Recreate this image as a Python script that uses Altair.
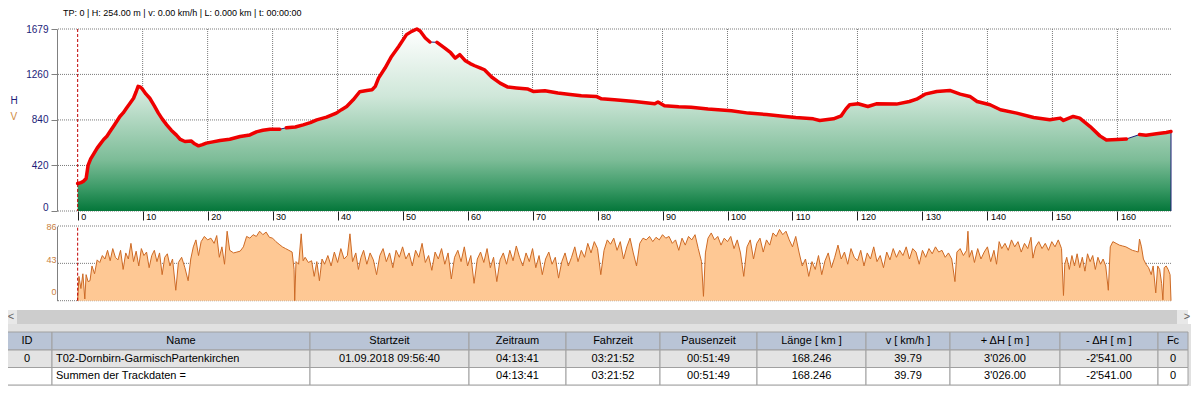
import altair as alt
import pandas as pd

# ---------------- data ----------------
status_text = "TP: 0 | H: 254.00 m | v: 0.00 km/h | L: 0.000 km | t: 00:00:00"

elevation_profile = [
    (0.0, 254), (0.5, 262), (0.9, 275), (1.3, 300), (1.6, 420), (2.0, 480), (2.4, 520),
    (3.0, 580), (3.4, 612), (4.0, 660), (4.5, 690), (5.0, 735), (5.5, 780), (6.0, 825),
    (6.5, 872), (7.0, 905), (7.5, 948), (8.0, 990), (8.6, 1040), (9.0, 1100), (9.3, 1150),
    (9.6, 1145), (9.9, 1130), (10.5, 1080), (11.1, 1040), (11.8, 970), (12.4, 905),
    (13.0, 850), (13.7, 795), (14.4, 745), (15.2, 700), (15.8, 660), (16.5, 641),
    (17.5, 645), (18.0, 620), (18.6, 601), (19.2, 612), (19.8, 626), (20.8, 638),
    (21.9, 650), (23.4, 662), (25.0, 687), (26.5, 702), (27.5, 730), (28.5, 745),
    (29.6, 755), (31.1, 755), (32.1, 767), (33.5, 775), (34.7, 795), (35.8, 815),
    (36.8, 841), (38.3, 866), (39.8, 903), (40.6, 935), (41.4, 964), (42.4, 1026),
    (43.4, 1100), (44.5, 1112), (45.3, 1118), (45.8, 1150), (46.3, 1226), (47.3, 1319),
    (48.3, 1426), (49.4, 1518), (50.6, 1627), (51.4, 1657), (52.2, 1679), (52.7, 1660),
    (53.5, 1596), (54.2, 1559), (55.3, 1556), (56.5, 1503), (57.4, 1460), (58.1, 1411),
    (58.8, 1442), (59.6, 1389), (60.4, 1360), (61.1, 1340), (62.0, 1318), (62.6, 1303),
    (63.7, 1236), (65.0, 1180), (66.2, 1143), (67.5, 1135), (69.3, 1125), (70.1, 1103),
    (71.9, 1110), (73.9, 1088), (75.8, 1075), (77.5, 1063), (79.8, 1057), (80.6, 1035),
    (82.6, 1026), (85.7, 1010), (88.8, 989), (89.3, 1006), (90.3, 970), (92.5, 962),
    (94.4, 958), (97.0, 940), (100.6, 924), (103.2, 903), (106.0, 890), (108.5, 875),
    (110.5, 862), (113.2, 850), (114.2, 835), (116.3, 850), (117.5, 878), (118.2, 940),
    (118.8, 980), (120.1, 989), (121.6, 964), (122.9, 989), (126.0, 986), (128.0, 1010),
    (129.1, 1032), (130.4, 1078), (132.2, 1103), (134.2, 1112), (135.8, 1078),
    (137.3, 1057), (138.4, 1010), (140.4, 980), (142.0, 934), (144.5, 903), (147.1, 863),
    (149.6, 841), (151.2, 857), (151.7, 835), (153.2, 872), (154.2, 857), (155.8, 779),
    (157.3, 693), (158.3, 656), (160.0, 660), (161.4, 665), (163.4, 705), (164.4, 699),
    (166.0, 712), (167.5, 725), (168.246, 733),
]

# stretches where the red highlight of the profile is interrupted (km from .. to)
red_gaps = [(31.1, 32.1), (54.2, 55.3), (161.4, 163.4)]

speed_profile = [
    (0.0, 0), (0.2, 28), (0.5, 14), (0.8, 31), (1.1, 2), (1.3, 30), (1.6, 22), (1.9, 23),
    (2.2, 40), (2.6, 31), (3.0, 47), (3.4, 44), (3.8, 52), (4.2, 48), (4.6, 58), (5.0, 46),
    (5.4, 60), (5.8, 50), (6.2, 47), (6.6, 58), (7.0, 36), (7.4, 55), (7.8, 48), (8.2, 66),
    (8.6, 45), (9.0, 57), (9.4, 40), (9.8, 60), (10.2, 52), (10.6, 56), (11.0, 38),
    (11.4, 52), (11.8, 58), (12.2, 45), (12.6, 55), (13.0, 30), (13.4, 50), (13.8, 54),
    (14.2, 40), (14.6, 48), (15.1, 12), (15.5, 44), (16.0, 50), (16.5, 38), (17.0, 23),
    (17.4, 48), (17.8, 62), (18.2, 70), (18.6, 52), (19.0, 68), (19.5, 74), (20.0, 70),
    (20.5, 72), (21.0, 66), (21.4, 75), (21.8, 50), (22.2, 62), (22.6, 42), (23.0, 80),
    (23.4, 58), (24.0, 55), (24.5, 56), (25.0, 57), (25.5, 62), (26.0, 74), (26.5, 72),
    (27.0, 76), (27.5, 74), (28.0, 80), (28.5, 76), (29.0, 79), (29.5, 73), (30.0, 72),
    (30.5, 68), (31.0, 65), (31.5, 62), (32.0, 60), (32.5, 58), (33.0, 56), (33.3, 36),
    (33.4, 0), (33.6, 45), (34.0, 42), (34.4, 77), (34.7, 46), (35.0, 50), (35.5, 44),
    (36.0, 46), (36.4, 28), (36.8, 45), (37.2, 23), (37.6, 48), (38.0, 42), (38.5, 52),
    (39.0, 40), (39.5, 56), (40.0, 44), (40.5, 60), (41.0, 48), (41.5, 52), (41.9, 77),
    (42.3, 45), (42.8, 55), (43.2, 36), (43.6, 50), (44.0, 58), (44.5, 42), (45.0, 55),
    (45.5, 47), (46.0, 30), (46.5, 52), (47.0, 60), (47.5, 45), (48.0, 55), (48.5, 38),
    (49.0, 58), (49.5, 50), (50.0, 62), (50.5, 48), (51.0, 55), (51.5, 40), (52.0, 58),
    (52.5, 50), (53.0, 66), (53.5, 44), (54.0, 52), (54.5, 35), (55.0, 56), (55.5, 48),
    (56.0, 60), (56.5, 42), (57.0, 55), (57.5, 25), (58.0, 50), (58.5, 58), (59.0, 45),
    (59.5, 62), (60.0, 40), (60.5, 52), (61.0, 20), (61.5, 48), (62.0, 56), (62.5, 44),
    (63.0, 60), (63.5, 38), (64.0, 50), (64.5, 22), (65.0, 47), (65.5, 55), (66.0, 42),
    (66.5, 58), (67.0, 46), (67.5, 63), (68.0, 50), (68.5, 40), (69.0, 55), (69.5, 45),
    (70.0, 60), (70.5, 38), (71.0, 52), (71.5, 30), (72.0, 48), (72.5, 56), (73.0, 42),
    (73.5, 50), (74.0, 26), (74.5, 45), (75.0, 55), (75.5, 40), (76.0, 50), (76.5, 62),
    (77.0, 45), (77.5, 58), (78.0, 50), (78.5, 66), (79.0, 55), (79.5, 68), (80.0, 60),
    (80.5, 30), (81.0, 58), (81.5, 70), (82.0, 65), (82.5, 72), (83.0, 58), (83.5, 68),
    (84.0, 48), (84.5, 62), (85.0, 72), (85.5, 55), (86.0, 40), (86.5, 66), (87.0, 72),
    (87.5, 70), (88.0, 74), (88.5, 68), (89.0, 73), (89.5, 70), (90.0, 76), (90.5, 72),
    (91.0, 74), (91.5, 66), (92.0, 70), (92.5, 58), (93.0, 72), (93.5, 64), (94.0, 74),
    (94.5, 70), (95.0, 76), (95.5, 60), (96.0, 45), (96.3, 5), (96.6, 55), (97.0, 72),
    (97.5, 78), (98.0, 70), (98.5, 74), (99.0, 64), (99.5, 72), (100.0, 68), (100.5, 74),
    (101.0, 60), (101.5, 70), (102.0, 55), (102.5, 28), (103.0, 62), (103.5, 70),
    (104.0, 48), (104.5, 66), (105.0, 72), (105.5, 56), (106.0, 70), (106.5, 64),
    (107.0, 78), (107.5, 74), (108.0, 82), (108.5, 76), (109.0, 80), (109.5, 70),
    (110.0, 62), (110.5, 74), (111.0, 56), (111.5, 40), (112.0, 48), (112.5, 28),
    (113.0, 45), (113.5, 36), (114.0, 52), (114.5, 30), (115.0, 46), (115.5, 55),
    (116.0, 38), (116.5, 50), (117.0, 64), (117.5, 48), (118.0, 56), (118.5, 42),
    (119.0, 60), (119.5, 50), (120.0, 46), (120.5, 58), (121.0, 40), (121.5, 55),
    (122.0, 48), (122.5, 62), (123.0, 45), (123.5, 52), (124.0, 38), (124.5, 56),
    (125.0, 47), (125.5, 60), (126.0, 50), (126.5, 58), (127.0, 52), (127.5, 62),
    (128.0, 48), (128.5, 60), (129.0, 56), (129.5, 42), (130.0, 58), (130.5, 50),
    (131.0, 60), (131.5, 54), (132.0, 62), (132.5, 56), (133.0, 58), (133.5, 50),
    (134.0, 55), (134.5, 48), (135.0, 22), (135.3, 56), (135.8, 60), (136.3, 52),
    (136.8, 58), (137.0, 80), (137.2, 50), (137.6, 58), (138.0, 44), (138.5, 60),
    (139.0, 48), (139.5, 56), (140.0, 62), (140.5, 45), (141.0, 58), (141.4, 42),
    (141.8, 68), (142.2, 60), (142.7, 66), (143.2, 58), (143.7, 70), (144.2, 62),
    (144.7, 68), (145.2, 56), (145.7, 66), (146.2, 60), (146.7, 73), (147.0, 49),
    (147.4, 62), (147.9, 68), (148.4, 60), (148.9, 66), (149.4, 58), (149.9, 68),
    (150.4, 62), (150.9, 70), (151.4, 60), (151.7, 6), (151.9, 42), (152.2, 50),
    (152.6, 36), (153.0, 52), (153.4, 40), (153.8, 54), (154.2, 38), (154.6, 50),
    (155.0, 34), (155.4, 54), (155.8, 45), (156.2, 52), (156.6, 36), (157.0, 50),
    (157.4, 42), (157.8, 48), (158.2, 40), (158.6, 12), (158.9, 62), (159.3, 68),
    (159.8, 66), (160.3, 64), (160.8, 63), (161.3, 62), (161.8, 60), (162.3, 58),
    (162.8, 57), (163.2, 56), (163.4, 71), (163.7, 62), (164.0, 48), (164.4, 42),
    (164.8, 38), (165.2, 30), (165.5, 40), (165.9, 9), (166.2, 40), (166.5, 36),
    (166.8, 20), (167.0, 1), (167.2, 38), (167.5, 40), (167.8, 36), (168.1, 30),
    (168.246, 0),
]

elev_ticks = [0, 420, 840, 1260, 1679]
speed_ticks = [0, 43, 86]
km_ticks = [0, 10, 20, 30, 40, 50, 60, 70, 80, 90, 100, 110, 120, 130, 140, 150, 160]
cursor_km = [0.0]
track_start_km = -3.18
track_end_km = 168.246

table_header = ["ID", "Name", "Startzeit", "Zeitraum", "Fahrzeit", "Pausenzeit",
                "Länge [ km ]", "v [ km/h ]", "+ ΔH [ m ]", "- ΔH [ m ]", "Fc"]
table_track = ["0", "T02-Dornbirn-GarmischPartenkirchen", "01.09.2018 09:56:40", "04:13:41",
               "03:21:52", "00:51:49", "168.246", "39.79", "3'026.00", "-2'541.00", "0"]
table_sum = ["", "Summen der Trackdaten =", "", "04:13:41", "03:21:52", "00:51:49",
             "168.246", "39.79", "3'026.00", "-2'541.00", "0"]

# ---------------- layout / style ----------------
FONT = "Liberation Sans, Arial, Helvetica, sans-serif"
GRID = "#7a7a7a"
NAVY = "#1c1c78"
COL_WIDTHS = [50, 258, 159, 97, 94, 97, 109, 84, 110, 98, 30]
ROW_EDGES = [22, 40, 57.5, 75]          # header, track row, sum row (table units)
SCROLL_EDGES = [0, 14]
THUMB = [15, 1175]
SPEED_RANGE = [271.7, 197]
TABLE_X_RANGE = [-55, 1131]
TABLE_Y_RANGE = [281, 356]

edges = [0]
for w in COL_WIDTHS:
    edges.append(edges[-1] + w)
table_w = edges[-1]

x_km = alt.Scale(domain=[track_start_km, track_end_km], nice=False, zero=False)
y_elev = alt.Scale(domain=[elev_ticks[0], elev_ticks[-1]], nice=False, zero=False)
y_speed = alt.Scale(domain=[speed_ticks[0], speed_ticks[-1]], range=SPEED_RANGE, nice=False, zero=False)
tx = alt.Scale(domain=[0, table_w], range=TABLE_X_RANGE, nice=False, zero=False)
ty = alt.Scale(domain=[0, ROW_EDGES[-1]], range=TABLE_Y_RANGE, nice=False, zero=False)

elev_df = pd.DataFrame(elevation_profile, columns=["km", "m"])
speed_df = pd.DataFrame(speed_profile, columns=["km", "v"])

# red highlight: split into segments at the gaps
inside_gap = elev_df["km"].apply(lambda k: any(a < k < b for a, b in red_gaps))
red_df = elev_df[~inside_gap].copy()
red_df["seg"] = red_df["km"].apply(lambda k: sum(1 for a, b in red_gaps if k >= b))
end_df = elev_df.tail(1).assign(base=elev_ticks[0])

# ---------------- plot layers ----------------
hgrid = alt.Chart(pd.DataFrame({"v": elev_ticks})).mark_rule(
    color=GRID, strokeDash=[1, 1], strokeWidth=1
).encode(y=alt.Y("v:Q", scale=y_elev, axis=None))

vgrid = alt.Chart(pd.DataFrame({"k": km_ticks[1:]})).mark_rule(
    color=GRID, strokeDash=[1, 1], strokeWidth=1
).encode(x=alt.X("k:Q", scale=x_km, axis=None))

sgrid = alt.Chart(pd.DataFrame({"v": speed_ticks})).mark_rule(
    color=GRID, strokeDash=[1, 1], strokeWidth=1
).encode(y=alt.Y("v:Q", scale=y_speed, axis=None))

gradient = alt.Gradient(
    gradient="linear",
    stops=[
        alt.GradientStop(color="#ffffff", offset=0),
        alt.GradientStop(color="#cfe7d9", offset=0.37),
        alt.GradientStop(color="#7cbc97", offset=0.72),
        alt.GradientStop(color="#3d9b68", offset=0.87),
        alt.GradientStop(color="#04773a", offset=1),
    ],
    x1=1, x2=1, y1=0, y2=1,
)

x_axis = alt.Axis(
    orient="bottom", values=km_ticks, format="d", grid=False, domain=False,
    tickColor="#202020", tickSize=9, tickWidth=1,
    labelAlign="left", labelBaseline="middle", labelPadding=-4, labelOffset=3,
    labelFlush=False, labelFontSize=9, labelFont=FONT, labelColor="#000000", title=None,
)
elev_axis = alt.Axis(
    orient="left", values=elev_ticks, format="d", grid=False,
    domainColor="#808080", tickColor="#808080", tickSize=6, labelPadding=3,
    labelColor=NAVY, labelFontSize=10, labelFont=FONT,
    labelOffset={"expr": "datum.value == 0 ? -4 : 0"},
    title="H", titleAngle=0, titleX=-47, titleY=71, titleColor=NAVY,
    titleFontSize=10, titleFontWeight="normal", titleFont=FONT,
    titleAlign="left", titleBaseline="middle",
)
speed_axis = alt.Axis(
    orient="left", values=speed_ticks, format="d", grid=False, ticks=False,
    domainColor="#808080", labelPadding=1,
    labelColor="#c8803e", labelFontSize=9, labelFont=FONT,
    labelOffset={"expr": "datum.value == 0 ? -9 : (datum.value == 43 ? -4 : 0)"},
    title="V", titleAngle=0, titleX=-47, titleY=87, titleColor="#d08a40",
    titleFontSize=10, titleFontWeight="normal", titleFont=FONT,
    titleAlign="left", titleBaseline="middle",
)

elev_area = alt.Chart(elev_df).mark_area(color=gradient).encode(
    x=alt.X("km:Q", scale=x_km, axis=x_axis),
    y=alt.Y("m:Q", scale=y_elev, axis=elev_axis),
)
elev_outline = alt.Chart(elev_df).mark_line(color=NAVY, strokeWidth=1).encode(
    x=alt.X("km:Q", scale=x_km, axis=None),
    y=alt.Y("m:Q", scale=y_elev, axis=None),
)
elev_end = alt.Chart(end_df).mark_rule(color=NAVY, strokeWidth=1).encode(
    x=alt.X("km:Q", scale=x_km, axis=None),
    y=alt.Y("m:Q", scale=y_elev, axis=None),
    y2="base:Q",
)
elev_line = alt.Chart(red_df).mark_line(
    color="#ee0000", strokeWidth=3.5, strokeJoin="round", strokeCap="round"
).encode(
    x=alt.X("km:Q", scale=x_km, axis=None),
    y=alt.Y("m:Q", scale=y_elev, axis=None),
    detail="seg:N",
)

speed_area = alt.Chart(speed_df).mark_area(color="#fec894").encode(
    x=alt.X("km:Q", scale=x_km, axis=None),
    y=alt.Y("v:Q", scale=y_speed, axis=speed_axis),
)
speed_line = alt.Chart(speed_df).mark_line(color="#cd6a25", strokeWidth=1).encode(
    x=alt.X("km:Q", scale=x_km, axis=None),
    y=alt.Y("v:Q", scale=y_speed, axis=None),
)

cursor_e = alt.Chart(pd.DataFrame({"k": cursor_km})).mark_rule(
    color="#c00000", strokeDash=[3, 2], strokeWidth=1
).encode(x=alt.X("k:Q", scale=x_km, axis=None))
cursor_s = alt.Chart(pd.DataFrame({"k": cursor_km, "lo": [speed_ticks[0]], "hi": [speed_ticks[-1]]})).mark_rule(
    color="#c00000", strokeDash=[3, 2], strokeWidth=1
).encode(
    x=alt.X("k:Q", scale=x_km, axis=None),
    y=alt.Y("lo:Q", scale=y_speed, axis=None),
    y2="hi:Q",
)

# ---------------- table / scrollbar ----------------
bg_df = pd.DataFrame({"x0": [0], "x1": [table_w + 10], "y0": [SCROLL_EDGES[1]], "y1": [ROW_EDGES[-1] + 2]})
table_bg = alt.Chart(bg_df).mark_rect(color="#e1e1e1").encode(
    x=alt.X("x0:Q", scale=tx, axis=None), x2="x1:Q",
    y=alt.Y("y0:Q", scale=ty, axis=None), y2="y1:Q",
)

scroll_df = pd.DataFrame({
    "part": ["track", "thumb"],
    "x0": [0, THUMB[0]], "x1": [table_w, THUMB[1]],
    "y0": [SCROLL_EDGES[0]] * 2, "y1": [SCROLL_EDGES[1]] * 2,
})
scroll = alt.Chart(scroll_df).mark_rect().encode(
    x=alt.X("x0:Q", scale=tx, axis=None), x2="x1:Q",
    y=alt.Y("y0:Q", scale=ty, axis=None), y2="y1:Q",
    color=alt.Color("part:N", scale=alt.Scale(domain=["track", "thumb"], range=["#e8e8e8", "#cdcdcd"]), legend=None),
)
arrow_df = pd.DataFrame({"t": ["<", ">"], "x": [9, table_w - 1], "y": [sum(SCROLL_EDGES) / 2] * 2})
arrows = alt.Chart(arrow_df).mark_text(fontSize=11, font=FONT, color="#606060", baseline="middle").encode(
    x=alt.X("x:Q", scale=tx, axis=None), y=alt.Y("y:Q", scale=ty, axis=None), text="t:N",
)

cells = []
for r, (kind, row) in enumerate(zip(["header", "track", "sum"], [table_header, table_track, table_sum])):
    for c, txt in enumerate(row):
        left = (c == 1 and kind != "header")
        cells.append({
            "kind": kind, "text": txt,
            "x0": edges[c], "x1": edges[c + 1],
            "y0": ROW_EDGES[r], "y1": ROW_EDGES[r + 1],
            "xc": (edges[c] + edges[c + 1]) / 2, "xl": edges[c] + 4,
            "yc": (ROW_EDGES[r] + ROW_EDGES[r + 1]) / 2,
            "align": "left" if left else "center",
        })
cell_df = pd.DataFrame(cells)

cell_rects = alt.Chart(cell_df).mark_rect(stroke="#a0a0a0", strokeWidth=1).encode(
    x=alt.X("x0:Q", scale=tx, axis=None), x2="x1:Q",
    y=alt.Y("y0:Q", scale=ty, axis=None), y2="y1:Q",
    color=alt.Color("kind:N", scale=alt.Scale(domain=["header", "track", "sum"],
                                              range=["#b9c4d6", "#e3e3e3", "#ffffff"]), legend=None),
)
cell_text_c = alt.Chart(cell_df[cell_df["align"] == "center"]).mark_text(
    fontSize=11, font=FONT, color="#000000", baseline="middle", align="center"
).encode(x=alt.X("xc:Q", scale=tx, axis=None), y=alt.Y("yc:Q", scale=ty, axis=None), text="text:N")
cell_text_l = alt.Chart(cell_df[cell_df["align"] == "left"]).mark_text(
    fontSize=11, font=FONT, color="#000000", baseline="middle", align="left"
).encode(x=alt.X("xl:Q", scale=tx, axis=None), y=alt.Y("yc:Q", scale=ty, axis=None), text="text:N")

chart = alt.layer(
    hgrid, vgrid, sgrid, elev_area, elev_outline, elev_end, elev_line,
    speed_area, speed_line, cursor_e, cursor_s,
    table_bg, scroll, arrows, cell_rects, cell_text_c, cell_text_l,
).resolve_scale(
    x="independent", y="independent", color="independent"
).properties(
    width=1114, height=182,
    autosize=alt.AutoSizeParams(type="none"),
    padding={"left": 49, "top": 21, "right": 20, "bottom": 175},
    background="white",
    title=alt.TitleParams(status_text, anchor="start", frame="group", offset=6, dx=6,
                          fontSize=9, fontWeight="normal", font=FONT, color="#000000"),
).configure_view(stroke=None)

chart.save("out.html", embed_options={"renderer": "svg", "actions": False})
